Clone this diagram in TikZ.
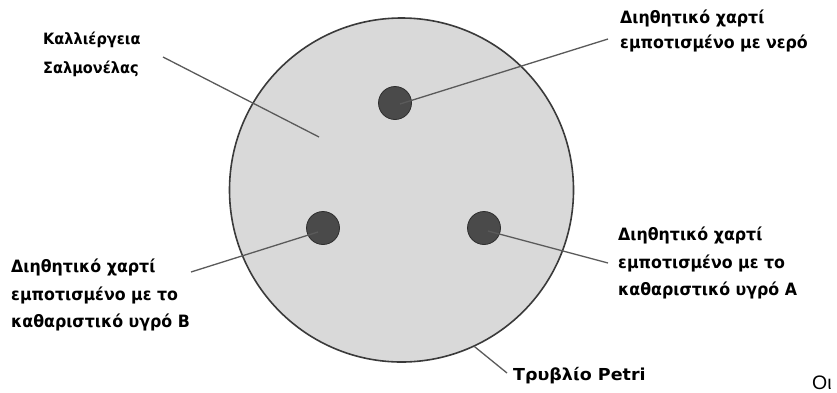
\documentclass[tikz,border=0pt]{standalone}
\usepackage{fontspec}
\setmainfont{DejaVu Sans}
\newfontfamily\lblfont[FakeStretch=0.93]{DejaVu Sans}
\newfontfamily\petrifont[FakeStretch=1.06]{DejaVu Sans}
\newfontfamily\plainsans{Liberation Sans}
\definecolor{dishfill}{HTML}{D9D9D9}
\definecolor{dishline}{HTML}{3A3A3A}
\definecolor{dotfill}{HTML}{4A4A4A}
\definecolor{leader}{HTML}{5A5A5A}
\begin{document}
\begin{tikzpicture}[x=1pt,y=-1pt,
  dish/.style={circle,draw=dishline,line width=1.6pt,fill=dishfill,minimum size=344pt,inner sep=0pt},
  disc/.style={circle,draw=dishline!80!black,line width=0.8pt,fill=dotfill,minimum size=33pt,inner sep=0pt},
  lbl/.style={anchor=north west,inner sep=0pt,align=left,font=\lblfont\bfseries\fontsize{17}{27.5}\selectfont},
  leaderline/.style={draw=leader,line width=1.3pt}]
\useasboundingbox[fill=white] (0,0) rectangle (837,392);
\node[dish] (petri) at (401.5,190) {};
\node[disc] (water) at (395,103) {};
\node[disc] (discB) at (323,228) {};
\node[disc] (discA) at (484,228) {};
\node[lbl,font=\lblfont\bfseries\fontsize{15.6}{29}\selectfont] (culture) at (43,31.8) {Καλλιέργεια\\Σαλμονέλας};
\node[lbl,font=\lblfont\bfseries\fontsize{17}{25}\selectfont] (tw) at (620,9.7) {Διηθητικό χαρτί\\εμποτισμένο με νερό};
\node[lbl] (tb) at (11,258.7) {Διηθητικό χαρτί\\εμποτισμένο με το\\καθαριστικό υγρό B};
\node[lbl] (ta) at (618,226.7) {Διηθητικό χαρτί\\εμποτισμένο με το\\καθαριστικό υγρό A};
\node[anchor=base west,inner sep=0pt,font=\petrifont\bfseries\fontsize{16.5}{20}\selectfont] (tp) at (513,380) {Τρυβλίο Petri};
\node[anchor=base west,inner sep=0pt,font=\plainsans\fontsize{19.5}{24}\selectfont] (oi) at (812,389) {Οι};
\coordinate (cultend) at (319,137);
\coordinate (cultstart) at (163,57);
\coordinate (wend) at (608,39);
\coordinate (bend) at (191,272);
\coordinate (aend) at (608,263);
\coordinate (pend) at (507,373);
\path[leaderline] (cultstart) -- (cultend);
\path[leaderline] ([shift={(5pt,-1pt)}]water.center) -- (wend);
\path[leaderline] ([shift={(-5pt,-4pt)}]discB.center) -- (bend);
\path[leaderline] ([shift={(4pt,-3pt)}]discA.center) -- (aend);
\path[leaderline] (petri.-65.5) -- (pend);
\end{tikzpicture}
\end{document}
